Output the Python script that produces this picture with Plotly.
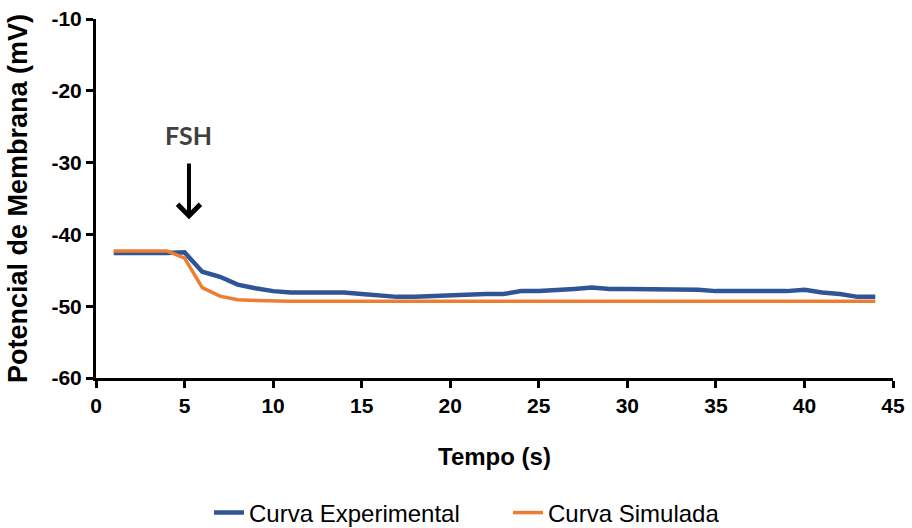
import plotly.graph_objects as go

tempo = list(range(1, 45))
curva_experimental = [-42.6, -42.6, -42.7, -42.6, -42.5, -45.2, -45.9, -47.0, -47.5, -47.9,
                      -48.1, -48.1, -48.1, -48.1, -48.3, -48.5, -48.7, -48.7, -48.6, -48.4,
                      -48.4, -48.3, -48.3, -47.9, -47.9, -47.8, -47.6, -47.4, -47.6, -47.6,
                      -47.6, -47.7, -47.7, -47.7, -47.9, -47.9, -47.9, -47.9, -47.9, -47.7,
                      -48.1, -48.3, -48.7, -48.7]
curva_simulada = [-42.3, -42.3, -42.3, -42.3, -43.3, -47.4, -48.6, -49.1, -49.2, -49.3,
                  -49.3, -49.3, -49.3, -49.3, -49.3, -49.3, -49.3, -49.3, -49.3, -49.3,
                  -49.3, -49.3, -49.3, -49.3, -49.3, -49.3, -49.3, -49.3, -49.3, -49.3,
                  -49.3, -49.3, -49.3, -49.3, -49.3, -49.3, -49.3, -49.3, -49.3, -49.3,
                  -49.3, -49.3, -49.3, -49.3]
x_ticks = [0, 5, 10, 15, 20, 25, 30, 35, 40, 45]
y_ticks = [-60, -50, -40, -30, -20, -10]
y_tick_labels = ["-60", "-50", "-40", "-30", "-20", "-10"]

font_main = "Liberation Sans, Arial, sans-serif"

fig = go.Figure()
fig.add_trace(go.Scatter(x=tempo, y=curva_experimental, mode="lines", name="Curva Experimental",
                         line=dict(color="#2F5597", width=4.5)))
fig.add_trace(go.Scatter(x=tempo, y=curva_simulada, mode="lines", name="Curva Simulada",
                         line=dict(color="#ED7D31", width=3.5)))

# FSH label and arrow
fig.add_annotation(x=5.25, y=-26.2, xref="x", yref="y", text="<b>FSH</b>", showarrow=False,
                   font=dict(family="Lato, sans-serif", size=25, color="#404040"))
fig.add_annotation(x=5.25, y=-37.9, ax=5.25, ay=-29.9, xref="x", yref="y", axref="x", ayref="y",
                   text="", showarrow=True, arrowhead=4, arrowsize=1.1, arrowwidth=4, arrowcolor="black")

fig.update_layout(
    width=912, height=528,
    margin=dict(l=96, r=19, t=19, b=150, autoexpand=False),
    paper_bgcolor="white", plot_bgcolor="white",
    font=dict(family=font_main, color="black"),
    showlegend=True,
    legend=dict(orientation="h", x=0.1418, xanchor="left", y=-0.376, yanchor="middle",
                entrywidth=254,
                font=dict(size=24, family=font_main, color="black")),
    xaxis=dict(range=[0, 45], tickvals=x_ticks, showgrid=False, zeroline=False, automargin=False,
               showline=True, linecolor="black", linewidth=3, ticks="outside",
               ticklen=7, tickwidth=3, tickcolor="black",
               tickfont=dict(size=21, family=font_main, weight="bold"),
               title=dict(text="<b>Tempo (s)</b>", font=dict(size=24, family=font_main), standoff=32)),
    yaxis=dict(range=[-60, -10], tickvals=y_ticks, ticktext=y_tick_labels, showgrid=False, zeroline=False,
               automargin=False,
               showline=True, linecolor="black", linewidth=3, ticks="outside",
               ticklen=7, tickwidth=3, tickcolor="black",
               tickfont=dict(size=21, family=font_main, weight="bold"),
               title=dict(text="<b>Potencial de Membrana (mV)</b>", font=dict(size=27, family=font_main), standoff=16)),
)

fig.write_html("out.html")
